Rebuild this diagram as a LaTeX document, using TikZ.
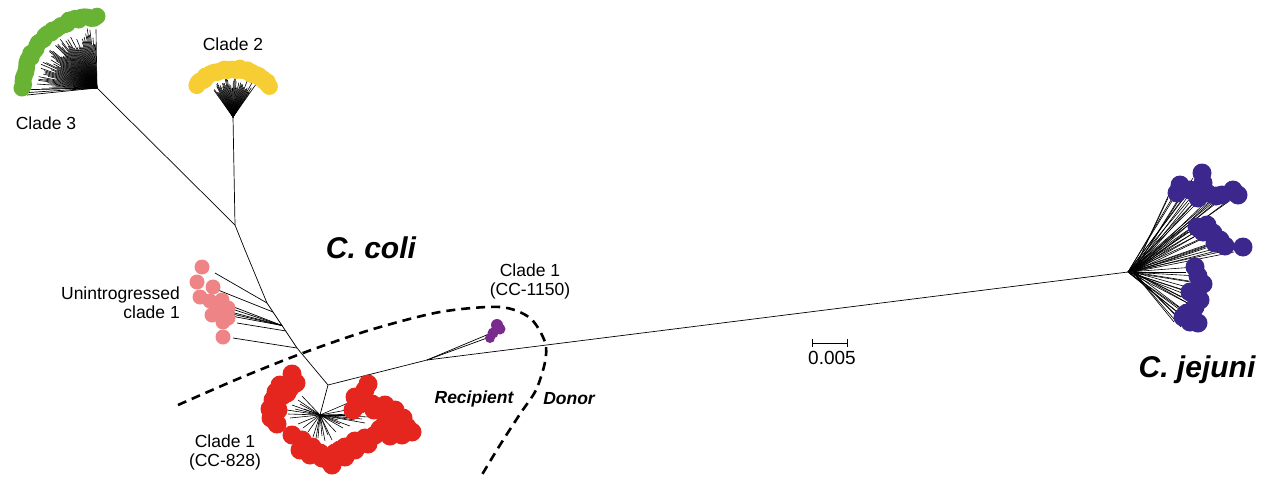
\documentclass[tikz,border=0pt]{standalone}
\usepackage{fontspec}
\setmainfont{Liberation Sans}
\usetikzlibrary{calc}
\definecolor{cgreen}{RGB}{104,178,52}
\definecolor{cyellow}{RGB}{246,206,52}
\definecolor{cpink}{RGB}{238,132,134}
\definecolor{cred}{RGB}{228,38,30}
\definecolor{cplum}{RGB}{122,42,140}
\definecolor{cjej}{RGB}{60,40,140}
\begin{document}
\begin{tikzpicture}[x=1pt,y=-1pt,
  br/.style={line width=0.7pt,black},
  dot/.style={circle,inner sep=0pt,minimum size=15pt,draw=none},
  lab/.style={font=\fontsize{17.5}{19}\selectfont,align=center,inner sep=0pt},
  big/.style={font=\fontsize{30}{32}\selectfont\bfseries\itshape,inner sep=0pt},
  sml/.style={font=\fontsize{17.5}{19}\selectfont\bfseries\itshape,inner sep=0pt},
  split/.style={line width=2.6pt,dash pattern=on 9pt off 6pt}]
\useasboundingbox (0,0) rectangle (1265,485);
\pgfmathsetseed{7}
% internal nodes
\coordinate (c3) at (97,88);
\coordinate (c2) at (233,117);
\coordinate (t0) at (235,225);
\coordinate (t1) at (245,250);
\coordinate (t2) at (267,303);
\coordinate (t3) at (297,348);
\coordinate (j1) at (328,385);
\coordinate (r0) at (320,415);
\coordinate (j2) at (427,360);
\coordinate (jj) at (1128,272);
% backbone
\draw[br] (c3) -- (t0);
\draw[br] (c2) -- (t0);
\draw[br] (t0) -- (t1) -- (t2) -- (t3) -- (j1);
\draw[br] (j1) -- (r0);
\draw[br] (j1) -- (j2);
\draw[br] (j2) -- (jj);
% clade 3 fan
\foreach \a in {91,92.2,...,181} {
  \pgfmathsetmacro\l{60*(0.68+0.34*rnd)}
  \draw[br,line width=0.6pt] (c3) -- ++({\l*cos(\a)},{-\l*sin(\a)});
}
\draw[br] (c3) -- ++(-82,2);
\draw[br] (c3) -- ++(-76,5);
\draw[br] (c3) -- ++(-70,7);
\foreach \a [count=\i] in {90,92.5,...,182} {
  \pgfmathsetmacro\r{71+4*(\a-90)/90+3*rnd-1.5}
  \node[dot,fill=cgreen,minimum size=17pt] (g\i) at ({97+\r*cos(\a)},{88-\r*sin(\a)}) {};
}
% clade 2 fan
\foreach \a in {55,56.5,...,126} {
  \pgfmathsetmacro\l{28+12*rnd}
  \draw[br,line width=0.6pt] (c2) -- ++({\l*cos(\a)},{-\l*sin(\a)});
}
\foreach \a [count=\i] in {40,43,...,139} {
  \pgfmathsetmacro\r{48+3*rnd-1.5}
  \node[dot,fill=cyellow,minimum size=17pt] (y\i) at ({233+\r*cos(\a)},{117-\r*sin(\a)}) {};
}
% unintrogressed clade 1
\coordinate (p1) at (t2);
\coordinate (p2) at ($(t2)!0.2!(t3)$);
\coordinate (p3) at ($(t2)!0.5!(t3)$);
\coordinate (p3b) at ($(t2)!0.62!(t3)$);
\coordinate (p4) at (t3);
\draw[br] (p1) -- (215,273);
\draw[br] (p2) -- (218,290);
\foreach \e in {(226,304),(229,308),(228,313),(231,316),(227,311)} \draw[br] (p3) -- \e;
\draw[br] (p3b) -- (237,323);
\draw[br] (p4) -- (233,338);
\foreach \p [count=\i] in {(202,267),(197,282),(213,287),(200,297),(210,301),(222,300),(218,310),(228,308),(212,315),(223,322),(228,318),(223,337)} {
  \node[dot,fill=cpink,minimum size=15pt] (k\i) at \p {};
}
% clade 1 CC-828 star
\foreach \e in {(287,410),(292,405),(288,414),(298,400),(302,396),(295,409),(300,404),(304,409),(290,418),
  (370,417),(365,423),(348,403),(355,420),(360,414),(350,426),(343,428),(338,420),(352,409),(362,419),(345,415),
  (313,437),(308,432),(332,440),(318,438),(325,441),(328,435),(303,428),(336,432),(322,436),(340,424),(298,424),(315,444)}
  \draw[br,line width=0.6pt] (r0) -- \e;
\foreach \p [count=\i] in {(292,374),(296,383),(287,393),(282,396),(273,400),(270,409),(271,418),(277,424),(290,388),(278,410),(280,385),(276,392),
  (292,435),(302,440),(312,447),(320,453),(328,460),(335,453),(345,447),(355,441),(365,438),(375,435),(385,432),(395,428),(407,427),(412,432),(403,418),(395,410),(385,405),(372,404),(360,404),(355,397),(365,390),(368,384),(353,410),(322,458),(340,450),(380,429),(398,423),
  (300,450),(310,455),(332,465),(345,457),(355,450),(368,444),(390,436),(402,435),(374,410),(386,420)} {
  \node[dot,fill=cred,minimum size=19pt] (r\i) at \p {};
}
% clade 1 CC-1150
\draw[br] (j2) -- (487,338);
\draw[br] (j2) -- (489,334);
\node[dot,fill=cplum,minimum size=12pt] (u1) at (497,325) {};
\node[dot,fill=cplum,minimum size=11pt] (u2) at (500,329) {};
\node[dot,fill=cplum,minimum size=11pt] (u3) at (493,333) {};
\node[dot,fill=cplum,minimum size=10pt] (u4) at (490,338) {};
% C. jejuni
\foreach \p [count=\i] in {(1180,185),(1177,193),(1202,173),(1203,183),(1198,198),(1207,193),(1216,196),(1222,195),(1233,190),(1238,195),(1190,190),
  (1197,227),(1207,225),(1213,233),(1220,240),(1225,246),(1215,243),(1243,247),(1203,232),
  (1195,267),(1198,276),(1203,284),(1190,292),(1197,295),(1195,307),(1187,313),(1190,322),(1198,323),(1183,317),(1200,300)} {
  \path \p coordinate (q\i);
  \draw[br,line width=0.6pt,shorten >=5pt] (jj) -- (q\i);
  \draw[br,line width=0.6pt] ($(jj)+(5,0)$) -- ($(q\i)+(-9,5)$);
}
\foreach \i in {1,...,30} \node[dot,fill=cjej,minimum size=19pt] (jd\i) at (q\i) {};
% split line
\draw[split] plot[smooth] coordinates {(178,405) (240,378) (303,353) (370,330) (440,312) (500,307) (530,318) (545,342) (545,362) (536,390) (520,414) (500,445) (480,478)};
% scale bar
\coordinate (s1) at (812,343);
\coordinate (s2) at (847,343);
\draw[br,line width=1pt] (s1) -- (s2);
\draw[br,line width=1pt] ($(s1)+(0,-4)$) -- ($(s1)+(0,4)$);
\draw[br,line width=1pt] ($(s2)+(0,-4)$) -- ($(s2)+(0,4)$);
\node[lab,font=\fontsize{19}{21}\selectfont] (sb) at (832,358) {0.005};
% labels
\node[lab] (l2) at (233,44) {Clade 2};
\node[lab] (l3) at (46,123) {Clade 3};
\node[lab,align=right,anchor=east] (lu) at (180,303) {Unintrogressed\\clade 1};
\node[lab] (l1a) at (530,281) {Clade 1\\(CC-1150)};
\node[lab] (l1b) at (225,452) {Clade 1\\(CC-828)};
\node[big] (cc) at (371,248) {C. coli};
\node[big] (cj) at (1197,370) {C. jejuni};
\node[sml] (rc) at (474,399) {Recipient};
\node[sml] (dn) at (569,399) {Donor};
\end{tikzpicture}
\end{document}
